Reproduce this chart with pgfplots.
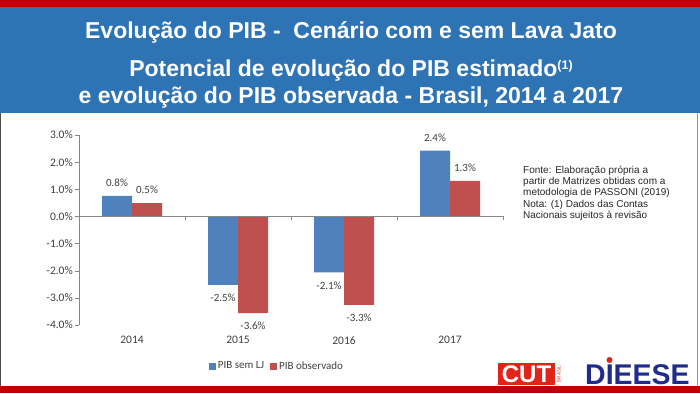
\documentclass[border=0pt]{standalone}
\usepackage{fontspec}
\setmainfont{Liberation Sans}
\newfontfamily\calibri{Carlito}
\usepackage{pgfplots}
\pgfplotsset{compat=1.18}
\definecolor{hdrblue}{HTML}{2E74B5}
\definecolor{stripred}{HTML}{C00000}
\definecolor{barblue}{HTML}{4F81BD}
\definecolor{barred}{HTML}{C0504D}
\definecolor{axgray}{HTML}{868686}
\definecolor{txtgray}{HTML}{404040}
\definecolor{dieeseblue}{HTML}{1F2C8C}
\definecolor{cutred}{HTML}{E2231A}
\begin{document}
\begin{tikzpicture}
\useasboundingbox (0pt,0pt) rectangle (700pt,393pt);
\fill[white] (0pt,0pt) rectangle (700pt,393pt);
\fill[stripred] (0pt,386pt) rectangle (700pt,393pt);
\fill[hdrblue] (0pt,280pt) rectangle (700pt,386pt);
\fill[stripred] (0pt,0pt) rectangle (700pt,7pt);
\draw[black!70, line width=1.2pt] (0.6pt,7pt) -- (0.6pt,280pt);
\draw[black!40, line width=1pt] (697.5pt,7pt) -- (697.5pt,280pt);
% titles
\node[white, font=\bfseries\fontsize{23}{26}\selectfont, inner sep=0pt] at (351pt,361pt) {Evolução do PIB -\ \ Cenário com e sem Lava Jato};
\node[white, font=\bfseries\fontsize{23}{26}\selectfont, inner sep=0pt] at (351pt,322pt) {Potencial de evolução do PIB estimado\raisebox{7pt}{\fontsize{12.5}{12.5}\selectfont(1)}};
\node[white, font=\bfseries\fontsize{23}{26}\selectfont, inner sep=0pt] at (351pt,295pt) {e evolução do PIB observada - Brasil, 2014 a 2017};
% note
\node[anchor=north west, inner sep=0pt, align=left, text=black!85, font=\fontsize{10}{11.2}\selectfont] at (523pt,227pt)
{Fonte: Elaboração própria a\\partir de Matrizes obtidas com a\\metodologia de PASSONI (2019)\\Nota: (1) Dados das Contas\\Nacionais sujeitos à revisão};
% logos
\fill[cutred] (498pt,8pt) rectangle (555pt,30pt);
\node[white, font=\bfseries\fontsize{24}{24}\selectfont, inner sep=0pt] at (526.5pt,19pt) {CUT};
\node[cutred, rotate=90, font=\fontsize{4.5}{5}\selectfont, inner sep=0pt] at (559pt,19pt) {BRASIL};
\node[dieeseblue, font=\bfseries\fontsize{28.5}{28}\selectfont, inner sep=0pt, anchor=base west] at (585pt,8.5pt) {DIEESE};
\fill[cutred] (609.5pt,33pt) circle (3pt);
\begin{axis}[
  at={(79pt,68pt)}, anchor=south west, scale only axis,
  width=424pt, height=190pt,
  xmin=-0.5, xmax=3.5, ymin=-4, ymax=3,
  enlargelimits=false,
  ybar=0pt, bar width=30pt,
  axis line style={draw=none},
  ytick pos=left,
  ytick={-4,-3,-2,-1,0,1,2,3},
  yticklabels={-4.0\%,-3.0\%,-2.0\%,-1.0\%,0.0\%,1.0\%,2.0\%,3.0\%},
  xtick={0,1,2,3},
  xticklabels={2014,2015,2016,2017},
  x tick style={draw=none},
  y tick style={draw=axgray},
  tick align=outside,
  major tick length=4pt,
  ticklabel style={font=\calibri\fontsize{11.5}{11.5}\selectfont, text=txtgray},
  yticklabel style={anchor=east, inner xsep=0pt, xshift=-2pt},
  xticklabel style={yshift=-4pt},
  /pgf/number format/assume math mode=true,
  nodes near coords={\pgfmathprintnumber[fixed,precision=1,zerofill]{\pgfplotspointmeta}\%},
  every node near coord/.append style={font=\calibri\fontsize{11}{11}\selectfont, text=txtgray, inner ysep=9pt},
  legend style={at={(0.467,-0.216)}, anchor=center, draw=none, fill=none,
    legend columns=2, font=\calibri\fontsize{11}{11}\selectfont, text=txtgray,
    /tikz/every even column/.append style={column sep=4pt}},
  legend image code/.code={\fill[#1,draw=none] (0pt,-3.5pt) rectangle (7pt,3.5pt);},
  clip=false,
]
\addplot[fill=barblue, draw=none] coordinates {(0,0.76) (1,-2.52) (2,-2.06) (3,2.42)};
\addplot[fill=barred, draw=none] coordinates {(0,0.49) (1,-3.56) (2,-3.26) (3,1.31)};
\legend{PIB sem LJ, PIB observado}
\draw[axgray] (axis cs:-0.5,-4) -- (axis cs:-0.5,3);
\draw[axgray] (axis cs:-0.5,0) -- (axis cs:3.5,0);
\pgfplotsinvokeforeach{0.5,1.5,2.5,3.5}{\draw[axgray] (axis cs:#1,0) -- ++(0pt,-4pt);}
\end{axis}
\end{tikzpicture}
\end{document}
